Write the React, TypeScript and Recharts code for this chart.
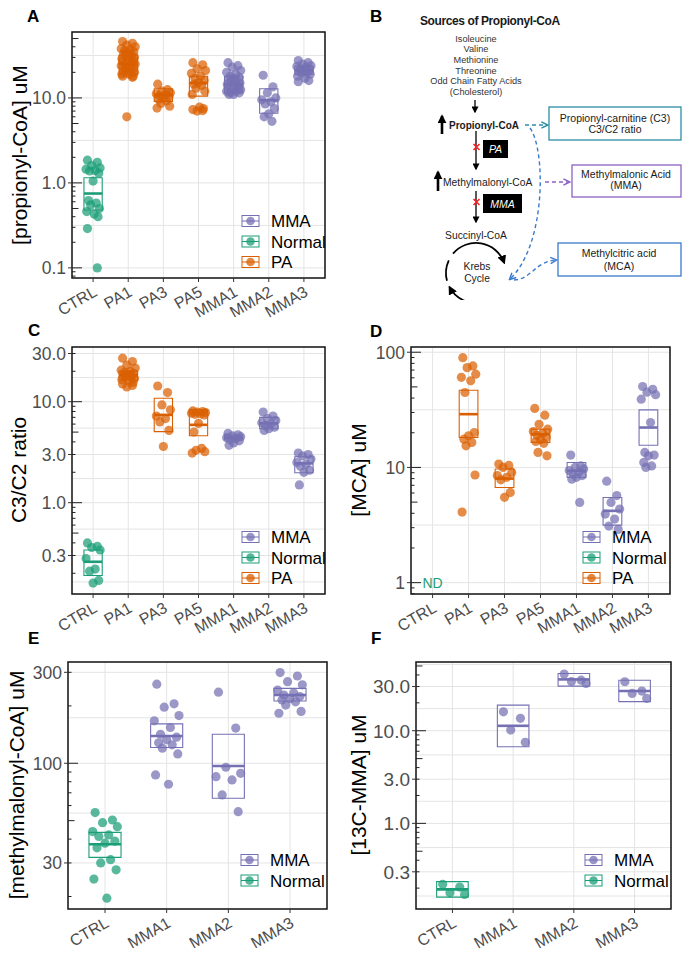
import React from "react";
import {
  ComposedChart,
  Scatter,
  XAxis,
  YAxis,
  CartesianGrid,
  ReferenceArea,
  ReferenceLine,
} from "recharts";

const FONT = "'Liberation Sans', Arial, Helvetica, sans-serif";
const PURPLE = "#7570B3";
const GREEN = "#1B9E77";
const ORANGE = "#D95F02";

// categories
const catsAll = ["CTRL", "PA1", "PA3", "PA5", "MMA1", "MMA2", "MMA3"];
const catsMMA = ["CTRL", "MMA1", "MMA2", "MMA3"];

// fixed horizontal jitter pattern (category units)
const jitter = [-0.16, 0.12, -0.04, 0.2, -0.2, 0.06, -0.1, 0.16, 0.0, -0.13, 0.09, -0.07, 0.18, -0.18, 0.03, 0.14];

// ---- A: [propionyl-CoA] uM
const aCTRL = [1.85, 1.75, 1.6, 1.5, 1.45, 1.4, 1.38, 1.3, 1.05, 0.62, 0.58, 0.55, 0.5, 0.46, 0.43, 0.4, 0.29, 0.1];
const aPA1 = [46, 44, 42, 40, 38, 37, 36, 35, 34, 33, 32, 31, 30, 29, 28, 28, 27, 26, 26, 25, 24, 24, 23, 22, 22, 21, 21, 20, 20, 19, 19, 18, 18, 17.5, 6.0];
const aPA3 = [14.5, 12.5, 12, 11.5, 11.2, 10.9, 10.6, 10.3, 10, 9.6, 9.2, 8.6, 8.0, 7.6];
const aPA5 = [26, 24.5, 22, 21, 19.5, 18, 17, 16, 15.2, 14.5, 14, 13, 12, 11, 7.8, 7.5, 7.3, 7.1, 7.0];
const aMMA1 = [26, 24, 23, 21, 20, 19, 18, 17.5, 17, 16.5, 16, 15.5, 15, 14.5, 14, 14, 13.5, 13, 13, 12.5, 12, 12, 11.5, 11.5, 11, 11];
const aMMA2 = [18.5, 13.5, 11.5, 10, 9.5, 9.0, 8.5, 7.5, 6.5, 6.0, 5.3];
const aMMA3 = [27.5, 26, 25, 24, 23.5, 23, 22, 21.5, 21, 20.5, 20, 19.5, 19, 18, 17, 16, 15.5];
const aLo = [0.48, 19, 9.1, 10.5, 11.5, 6.6, 18.9];
const aMed = [0.75, 25, 10.9, 15, 14.4, 9.4, 21];
const aHi = [1.15, 32, 12.8, 18, 18, 12.8, 23.7];
const aTicks = [0.1, 1, 10];
const aTickLabels = ["0.1", "1.0", "10.0"];

// ---- C: C3/C2 ratio
const cCTRL = [0.4, 0.37, 0.36, 0.34, 0.28, 0.22, 0.21, 0.17, 0.16];
const cPA1 = [27, 25, 23, 21.5, 20.5, 20, 19.5, 19, 18.5, 18, 18, 17.5, 17, 16.5, 16, 15.5, 15, 14.5, 14];
const cPA3 = [14.3, 12.3, 9.3, 8.3, 7.2, 6.8, 6.3, 5.2, 3.6];
const cPA5 = [8.1, 8.0, 7.9, 7.8, 7.7, 7.6, 7.5, 7.4, 6.1, 5.0, 3.45, 3.3, 3.2, 3.1];
const cMMA1 = [4.85, 4.7, 4.6, 4.5, 4.4, 4.3, 4.2, 4.1, 3.9, 3.7];
const cMMA2 = [7.9, 7.2, 6.8, 6.5, 6.2, 6.0, 5.8, 5.6, 5.4, 5.2];
const cMMA3 = [3.1, 3.0, 2.9, 2.7, 2.5, 2.4, 2.3, 2.1, 2.0, 1.5];
const cLo = [0.19, 16.4, 5.05, 4.6, 4.18, 5.4, 1.98];
const cMed = [0.26, 18.4, 7.4, 5.9, 4.4, 6.1, 2.45];
const cHi = [0.34, 20.1, 10.8, 8.3, 4.68, 7.0, 2.85];
const cTicks = [0.3, 1, 3, 10, 30];
const cTickLabels = ["0.3", "1.0", "3.0", "10.0", "30.0"];

// ---- D: [MCA] uM (CTRL not detected)
const dCTRL: number[] = [];
const dPA1 = [89.7, 76, 73.5, 64.5, 60.5, 56.5, 44.7, 20.1, 18.8, 17.6, 16.5, 15.4, 8.6, 4.1];
const dPA3 = [10.7, 10.4, 10.0, 9.05, 8.5, 8.2, 7.8, 6.07, 5.5];
const dPA5 = [32.5, 28.4, 23.7, 21.5, 20.5, 19.8, 19.0, 18.3, 17.5, 16.8, 16.2, 13.5, 12.6];
const dMMA1 = [12.8, 10.3, 10.0, 9.7, 9.4, 9.1, 8.8, 8.5, 8.2, 7.9, 4.97];
const dMMA2 = [7.6, 5.7, 4.97, 4.35, 3.94, 3.56, 3.1, 2.9];
const dMMA3 = [50.4, 47.7, 45, 42.8, 39.1, 24.5, 13.5, 12.8, 12.6, 11.05, 10.3, 10];
const dLo = [null, 18.2, 6.7, 16.5, 8.19, 3.16, 15.6];
const dMed = [null, 29, 8.0, 19.4, 9.36, 4.2, 22.2];
const dHi = [null, 46.8, 9.7, 21.5, 11.05, 5.49, 31.6];
const dTicks = [1, 10, 100];
const dTickLabels = ["1", "10", "100"];

// ---- E: [methylmalonyl-CoA] uM
const eCTRL = [55.1, 50.4, 48.8, 46.5, 43.8, 42.1, 41.3, 39, 38.1, 36, 31.2, 30, 27.6, 24.7, 19.6];
const eMMA1 = [260, 205, 197, 178, 167, 154, 142, 137, 133, 128, 125, 120, 112, 86.9, 77.6];
const eMMA2 = [236, 153, 95.3, 88.6, 85, 81.8, 68.2, 55.7];
const eMMA3 = [299, 287, 268, 258, 242, 234, 228, 224, 218, 215, 210, 202, 187, 183];
const eLo = [32.1, 121, 65.5, 212];
const eMed = [37.6, 139, 96.8, 228];
const eHi = [43.4, 161, 142, 247];
const eTicks = [30, 100, 300];
const eTickLabels = ["30", "100", "300"];

// ---- F: [13C-MMA] uM
const fCTRL = [0.22, 0.205, 0.178, 0.171];
const fMMA1 = [16, 13.6, 10.2, 7.5];
const fMMA2 = [40.9, 35.1, 34, 32.4];
const fMMA3 = [33.8, 26.8, 25.3, 22.3];
const fLo = [0.16, 6.72, 30.3, 20.6];
const fMed = [0.194, 11.3, 35.8, 26.8];
const fHi = [0.235, 18.9, 41.5, 35.1];
const fTicks = [0.3, 1, 3, 10, 30];
const fTickLabels = ["0.3", "1.0", "3.0", "10.0", "30.0"];

const colorFor = (cat: string) => (cat === "CTRL" ? GREEN : cat.startsWith("PA") ? ORANGE : PURPLE);
const legendColor: Record<string, string> = { MMA: PURPLE, Normal: GREEN, PA: ORANGE };

function logTicks(domain: number[]) {
  const out: number[] = [];
  for (let d = Math.floor(Math.log10(domain[0])); d <= Math.ceil(Math.log10(domain[1])); d++) {
    for (let k = 1; k <= 9; k++) {
      const v = k * Math.pow(10, d);
      if (v >= domain[0] && v <= domain[1]) out.push(v);
    }
  }
  return out;
}

function minorGrid(major: number[], domain: number[]) {
  const lg = major.map((m) => Math.log10(m));
  const out: number[] = [];
  for (let i = 0; i < lg.length - 1; i++) out.push(Math.pow(10, (lg[i] + lg[i + 1]) / 2));
  const step0 = lg[1] - lg[0];
  const stepN = lg[lg.length - 1] - lg[lg.length - 2];
  out.push(Math.pow(10, lg[0] - step0 / 2));
  out.push(Math.pow(10, lg[lg.length - 1] + stepN / 2));
  return out.filter((v) => v > domain[0] && v < domain[1]);
}

function makeYTick(major: number[], labels: string[], fs: number) {
  return (props: any) => {
    const { x, y, payload } = props;
    const v = payload.value;
    const m = v / Math.pow(10, Math.floor(Math.log10(v) + 1e-9));
    const len = Math.abs(m - 1) < 1e-6 ? 10 : Math.abs(m - 5) < 1e-6 ? 6.5 : 3.5;
    const idx = major.findIndex((t) => Math.abs(t - v) / t < 1e-6);
    return (
      <g>
        <line x1={x} x2={x + len} y1={y} y2={y} stroke="#222" strokeWidth={1} />
        {idx >= 0 && <line x1={x - 4} x2={x} y1={y} y2={y} stroke="#333" strokeWidth={1} />}
        {idx >= 0 && (
          <text x={x - 6} y={y} dy={fs * 0.36} textAnchor="end" fontSize={fs} fill="#4d4d4d" fontFamily={FONT}>
            {labels[idx]}
          </text>
        )}
      </g>
    );
  };
}

function makeXTick(cats: string[], fs: number) {
  return (props: any) => {
    const { x, y, payload } = props;
    const label = cats[Math.round(payload.value) - 1];
    return (
      <g>
        <line x1={x} x2={x} y1={y} y2={y + 4} stroke="#333" strokeWidth={1} />
        <text
          transform={`translate(${x + 5},${y + 17}) rotate(-30)`}
          textAnchor="end"
          fontSize={fs}
          fill="#4d4d4d"
          fontFamily={FONT}
        >
          {label}
        </text>
      </g>
    );
  };
}

type PanelProps = {
  left: number;
  top: number;
  width: number;
  height: number;
  mt: number;
  mr: number;
  yw: number;
  xh: number;
  cats: string[];
  values: number[][];
  lo: (number | null)[];
  med: (number | null)[];
  hi: (number | null)[];
  domain: number[];
  major: number[];
  majorLabels: string[];
  tickFs: number;
  nd?: boolean;
};

function Panel(p: PanelProps) {
  const n = p.cats.length;
  const xDomain = [0.4, n + 0.6];
  const idx = p.cats.map((_, i) => i + 1);
  const hw = 0.26;
  return (
    <div style={{ position: "absolute", left: p.left, top: p.top }}>
      <ComposedChart width={p.width} height={p.height} margin={{ top: p.mt, right: p.mr, left: 0, bottom: 0 }}>
        <CartesianGrid
          horizontalValues={[...p.major, ...minorGrid(p.major, p.domain)]}
          verticalValues={idx}
          stroke="#e4e4e4"
          strokeWidth={1}
        />
        <XAxis
          type="number"
          dataKey="x"
          domain={xDomain}
          ticks={idx}
          interval={0}
          allowDataOverflow
          height={p.xh}
          axisLine={false}
          tickLine={false}
          tickSize={0}
          tickMargin={0}
          tick={makeXTick(p.cats, 16)}
        />
        <YAxis
          type="number"
          dataKey="y"
          scale="log"
          domain={p.domain}
          allowDataOverflow
          ticks={logTicks(p.domain)}
          interval={0}
          width={p.yw}
          axisLine={false}
          tickLine={false}
          tickSize={0}
          tickMargin={0}
          tick={makeYTick(p.major, p.majorLabels, p.tickFs)}
        />
        {p.cats.map((c, i) =>
          p.lo[i] == null ? null : (
            <ReferenceArea
              key={"box" + c}
              x1={i + 1 - hw}
              x2={i + 1 + hw}
              y1={p.lo[i] as number}
              y2={p.hi[i] as number}
              fill="#ffffff"
              fillOpacity={0}
              stroke={colorFor(c)}
              strokeWidth={1.1}
              strokeOpacity={1}
            />
          )
        )}
        {p.cats.map((c, i) => (
          <Scatter
            key={"pts" + c}
            data={p.values[i].map((v, j) => ({ x: i + 1 + jitter[j % jitter.length], y: v }))}
            isAnimationActive={false}
            shape={(s: any) => <circle cx={s.cx} cy={s.cy} r={4.6} fill={colorFor(c)} fillOpacity={0.72} />}
          />
        ))}
        {p.cats.map((c, i) =>
          p.med[i] == null ? null : (
            <ReferenceLine
              key={"med" + c}
              segment={[
                { x: i + 1 - hw, y: p.med[i] as number },
                { x: i + 1 + hw, y: p.med[i] as number },
              ]}
              stroke={colorFor(c)}
              strokeWidth={2.6}
            />
          )
        )}
        {p.nd && (
          <Scatter
            data={[{ x: 1, y: 1 }]}
            isAnimationActive={false}
            shape={(s: any) => (
              <text x={s.cx} y={s.cy + 5} textAnchor="middle" fontSize={14} fill={GREEN} fontFamily={FONT}>
                ND
              </text>
            )}
          />
        )}
        <ReferenceArea
          x1={xDomain[0]}
          x2={xDomain[1]}
          y1={p.domain[0]}
          y2={p.domain[1]}
          fill="none"
          fillOpacity={0}
          stroke="#111"
          strokeWidth={1.5}
          ifOverflow="visible"
        />
      </ComposedChart>
    </div>
  );
}

function Legend({ x, y, items }: { x: number; y: number; items: string[] }) {
  return (
    <g>
      {items.map((it, i) => {
        const cy = y + i * 20.5;
        const col = legendColor[it];
        return (
          <g key={it}>
            <rect x={x} y={cy - 5.5} width={17} height={11} fill="#fff" stroke={col} strokeWidth={1} />
            <line x1={x} x2={x + 17} y1={cy} y2={cy} stroke={col} strokeWidth={1} />
            <circle cx={x + 8.5} cy={cy} r={4.3} fill={col} fillOpacity={0.75} />
            <text x={x + 29} y={cy + 6} fontSize={17} fill="#000" fontFamily={FONT}>
              {it}
            </text>
          </g>
        );
      })}
    </g>
  );
}

function YTitle({ x, y, text }: { x: number; y: number; text: string }) {
  return (
    <text transform={`translate(${x},${y}) rotate(-90)`} textAnchor="middle" fontSize={21} fill="#000" fontFamily={FONT}>
      {text}
    </text>
  );
}

function Letter({ x, y, t }: { x: number; y: number; t: string }) {
  return (
    <text x={x} y={y} fontSize={17} fontWeight="bold" fill="#000" fontFamily={FONT}>
      {t}
    </text>
  );
}

const sources = ["Isoleucine", "Valine", "Methionine", "Threonine", "Odd Chain Fatty Acids", "(Cholesterol)"];

function Pathway() {
  const TEAL = "#2b8ea6";
  const VIO = "#8c62c2";
  const BLUE = "#3a7bcc";
  const cx = 136;
  const cy = 273;
  const r = 30;
  const pt = (deg: number) => {
    const a = (deg * Math.PI) / 180;
    return `${(cx + r * Math.cos(a)).toFixed(1)},${(cy + r * Math.sin(a)).toFixed(1)}`;
  };
  const t = { fontFamily: FONT, fill: "#1a1a1a" } as const;
  return (
    <svg width={346} height={300} style={{ position: "absolute", left: 340, top: 0 }}>
      <defs>
        <marker id="hb" viewBox="0 0 10 10" refX="8" refY="5" markerWidth="7" markerHeight="7" markerUnits="userSpaceOnUse" orient="auto">
          <path d="M0,0 L10,5 L0,10 z" fill="#000" />
        </marker>
        <marker id="hbig" viewBox="0 0 10 10" refX="8" refY="5" markerWidth="9" markerHeight="9" markerUnits="userSpaceOnUse" orient="auto">
          <path d="M0,0 L10,5 L0,10 z" fill="#000" />
        </marker>
        <marker id="ht" viewBox="0 0 10 10" refX="8" refY="5" markerWidth="8" markerHeight="8" markerUnits="userSpaceOnUse" orient="auto">
          <path d="M1,1 L9,5 L1,9" fill="none" stroke={TEAL} strokeWidth={1.8} />
        </marker>
        <marker id="hv" viewBox="0 0 10 10" refX="8" refY="5" markerWidth="8" markerHeight="8" markerUnits="userSpaceOnUse" orient="auto">
          <path d="M1,1 L9,5 L1,9" fill="none" stroke={VIO} strokeWidth={1.8} />
        </marker>
        <marker id="hblu" viewBox="0 0 10 10" refX="8" refY="5" markerWidth="8" markerHeight="8" markerUnits="userSpaceOnUse" orient="auto">
          <path d="M1,1 L9,5 L1,9" fill="none" stroke={BLUE} strokeWidth={1.8} />
        </marker>
      </defs>
      <text x={80} y={25} fontSize={12} fontWeight="bold" letterSpacing={-0.4} {...t}>
        Sources of Propionyl-CoA
      </text>
      {sources.map((s, i) => (
        <text key={s} x={136} y={41.5 + i * 10.7} fontSize={9.2} textAnchor="middle" {...t} fill="#333">
          {s}
        </text>
      ))}
      <line x1={135} y1={100} x2={135} y2={112} stroke="#000" strokeWidth={1.3} markerEnd="url(#hb)" />
      {/* propionyl-CoA */}
      <line x1={102} y1={134} x2={102} y2={116} stroke="#000" strokeWidth={2.6} markerEnd="url(#hbig)" />
      <text x={109} y={128.5} fontSize={10} fontWeight="bold" {...t}>
        Propionyl-CoA
      </text>
      <line x1={185} y1={125} x2={207} y2={125} stroke={TEAL} strokeWidth={1.4} strokeDasharray="4 3" markerEnd="url(#ht)" />
      <rect x={209} y={107} width={132} height={33} fill="#fff" stroke={TEAL} strokeWidth={1.3} />
      <text x={275} y={121.5} fontSize={10.5} textAnchor="middle" {...t}>
        Propionyl-carnitine (C3)
      </text>
      <text x={275} y={133} fontSize={10.5} textAnchor="middle" {...t}>
        C3/C2 ratio
      </text>
      {/* PA block */}
      <line x1={136} y1={131} x2={136} y2={169} stroke="#000" strokeWidth={1.3} markerEnd="url(#hb)" />
      <path d="M133.5,144 L139.5,150 M139.5,144 L133.5,150" stroke="#ff2020" strokeWidth={1.6} />
      <rect x={143} y={140} width={25} height={18} fill="#000" />
      <text x={155.5} y={153} fontSize={10.5} fontStyle="italic" textAnchor="middle" fill="#fff" fontFamily={FONT}>
        PA
      </text>
      {/* methylmalonyl-CoA */}
      <line x1={98} y1={191} x2={98} y2={172} stroke="#000" strokeWidth={2.6} markerEnd="url(#hbig)" />
      <text x={103} y={185.5} fontSize={10.3} {...t}>
        Methylmalonyl-CoA
      </text>
      <line x1={205} y1={182} x2={229} y2={182} stroke={VIO} strokeWidth={1.4} strokeDasharray="4 3" markerEnd="url(#hv)" />
      <rect x={232} y={165} width={109} height={32} fill="#fff" stroke={VIO} strokeWidth={1.3} />
      <text x={286} y={177.5} fontSize={10.5} textAnchor="middle" {...t}>
        Methylmalonic Acid
      </text>
      <text x={286} y={189} fontSize={10.5} textAnchor="middle" {...t}>
        (MMA)
      </text>
      {/* MMA block */}
      <line x1={136} y1={191} x2={136} y2={222} stroke="#000" strokeWidth={1.3} markerEnd="url(#hb)" />
      <path d="M133.5,199 L139.5,205 M139.5,199 L133.5,205" stroke="#ff2020" strokeWidth={1.6} />
      <rect x={143} y={194} width={39} height={19} fill="#000" />
      <text x={162.5} y={207.5} fontSize={10.5} fontStyle="italic" textAnchor="middle" fill="#fff" fontFamily={FONT}>
        MMA
      </text>
      <text x={136} y={238.5} fontSize={10.3} textAnchor="middle" {...t}>
        Succinyl-CoA
      </text>
      {/* Krebs cycle */}
      <path d={`M${pt(-140)} A${r},${r} 0 0 1 ${pt(-20)}`} fill="none" stroke="#000" strokeWidth={1.8} markerEnd="url(#hbig)" />
      <path d={`M${pt(80)} A${r},${r} 0 0 1 ${pt(152)}`} fill="none" stroke="#000" strokeWidth={1.8} markerEnd="url(#hbig)" />
      <path d={`M${pt(165)} A${r},${r} 0 0 1 ${pt(205)}`} fill="none" stroke="#000" strokeWidth={1.8} />
      <text x={137} y={269.5} fontSize={10.3} textAnchor="middle" {...t}>
        Krebs
      </text>
      <text x={137} y={282} fontSize={10.3} textAnchor="middle" {...t}>
        Cycle
      </text>
      <path d="M190,128 C206,150 206,245 170,279" fill="none" stroke={BLUE} strokeWidth={1.4} strokeDasharray="4 3" markerEnd="url(#hblu)" />
      <path d="M174,280 C192,279 194,262 216,260" fill="none" stroke={BLUE} strokeWidth={1.4} strokeDasharray="4 3" markerEnd="url(#hblu)" />
      <rect x={218} y={243} width={123} height={33} fill="#fff" stroke={BLUE} strokeWidth={1.3} />
      <text x={279} y={256.5} fontSize={10.5} textAnchor="middle" {...t}>
        Methylcitric acid
      </text>
      <text x={279} y={269.5} fontSize={10.5} textAnchor="middle" {...t}>
        (MCA)
      </text>
      <text x={30} y={22} fontSize={17} fontWeight="bold" fill="#000" fontFamily={FONT}>
        B
      </text>
    </svg>
  );
}

export default function App() {
  return (
    <div style={{ position: "relative", width: 686, height: 960, background: "#fff", fontFamily: FONT, overflow: "hidden" }}>
      <style>{"body{margin:0;background:#fff}"}</style>
      <Panel
        left={0} top={0} width={345} height={322} mt={32} mr={20} yw={72} xh={44}
        cats={catsAll}
        values={[aCTRL, aPA1, aPA3, aPA5, aMMA1, aMMA2, aMMA3]}
        lo={aLo} med={aMed} hi={aHi}
        domain={[0.076, 59.7]} major={aTicks} majorLabels={aTickLabels} tickFs={17.5}
      />
      <Panel
        left={0} top={310} width={345} height={330} mt={37} mr={20} yw={72} xh={46}
        cats={catsAll}
        values={[cCTRL, cPA1, cPA3, cPA5, cMMA1, cMMA2, cMMA3]}
        lo={cLo} med={cMed} hi={cHi}
        domain={[0.1247, 34.8]} major={cTicks} majorLabels={cTickLabels} tickFs={17.5}
      />
      <Panel
        left={340} top={310} width={346} height={330} mt={37} mr={16} yw={71} xh={46}
        cats={catsAll}
        values={[dCTRL, dPA1, dPA3, dPA5, dMMA1, dMMA2, dMMA3]}
        lo={dLo} med={dMed} hi={dHi}
        domain={[0.797, 111]} major={dTicks} majorLabels={dTickLabels} tickFs={17.5} nd
      />
      <Panel
        left={0} top={630} width={345} height={330} mt={32} mr={18} yw={68} xh={51}
        cats={catsMMA}
        values={[eCTRL, eMMA1, eMMA2, eMMA3]}
        lo={eLo} med={eMed} hi={eHi}
        domain={[17.2, 339.8]} major={eTicks} majorLabels={eTickLabels} tickFs={17.5}
      />
      <Panel
        left={340} top={630} width={346} height={330} mt={32} mr={15} yw={76} xh={51}
        cats={catsMMA}
        values={[fCTRL, fMMA1, fMMA2, fMMA3]}
        lo={fLo} med={fMed} hi={fHi}
        domain={[0.119, 55.2]} major={fTicks} majorLabels={fTickLabels} tickFs={19}
      />
      <Pathway />
      <svg width={686} height={960} style={{ position: "absolute", left: 0, top: 0, pointerEvents: "none" }}>
        <Letter x={27} y={22} t="A" />
        <Letter x={28} y={336} t="C" />
        <Letter x={370} y={337} t="D" />
        <Letter x={28} y={644} t="E" />
        <Letter x={371} y={644} t="F" />
        <YTitle x={27} y={155} text="[propionyl-CoA] uM" />
        <YTitle x={26} y={470} text="C3/C2 ratio" />
        <YTitle x={366} y={470} text="[MCA] uM" />
        <YTitle x={24} y={785} text="[methylmalonyl-CoA] uM" />
        <YTitle x={366} y={785} text="[13C-MMA] uM" />
        <Legend x={242} y={221} items={["MMA", "Normal", "PA"]} />
        <Legend x={242} y={537} items={["MMA", "Normal", "PA"]} />
        <Legend x={583} y={537} items={["MMA", "Normal", "PA"]} />
        <Legend x={241} y={860} items={["MMA", "Normal"]} />
        <Legend x={585} y={860} items={["MMA", "Normal"]} />
      </svg>
    </div>
  );
}
